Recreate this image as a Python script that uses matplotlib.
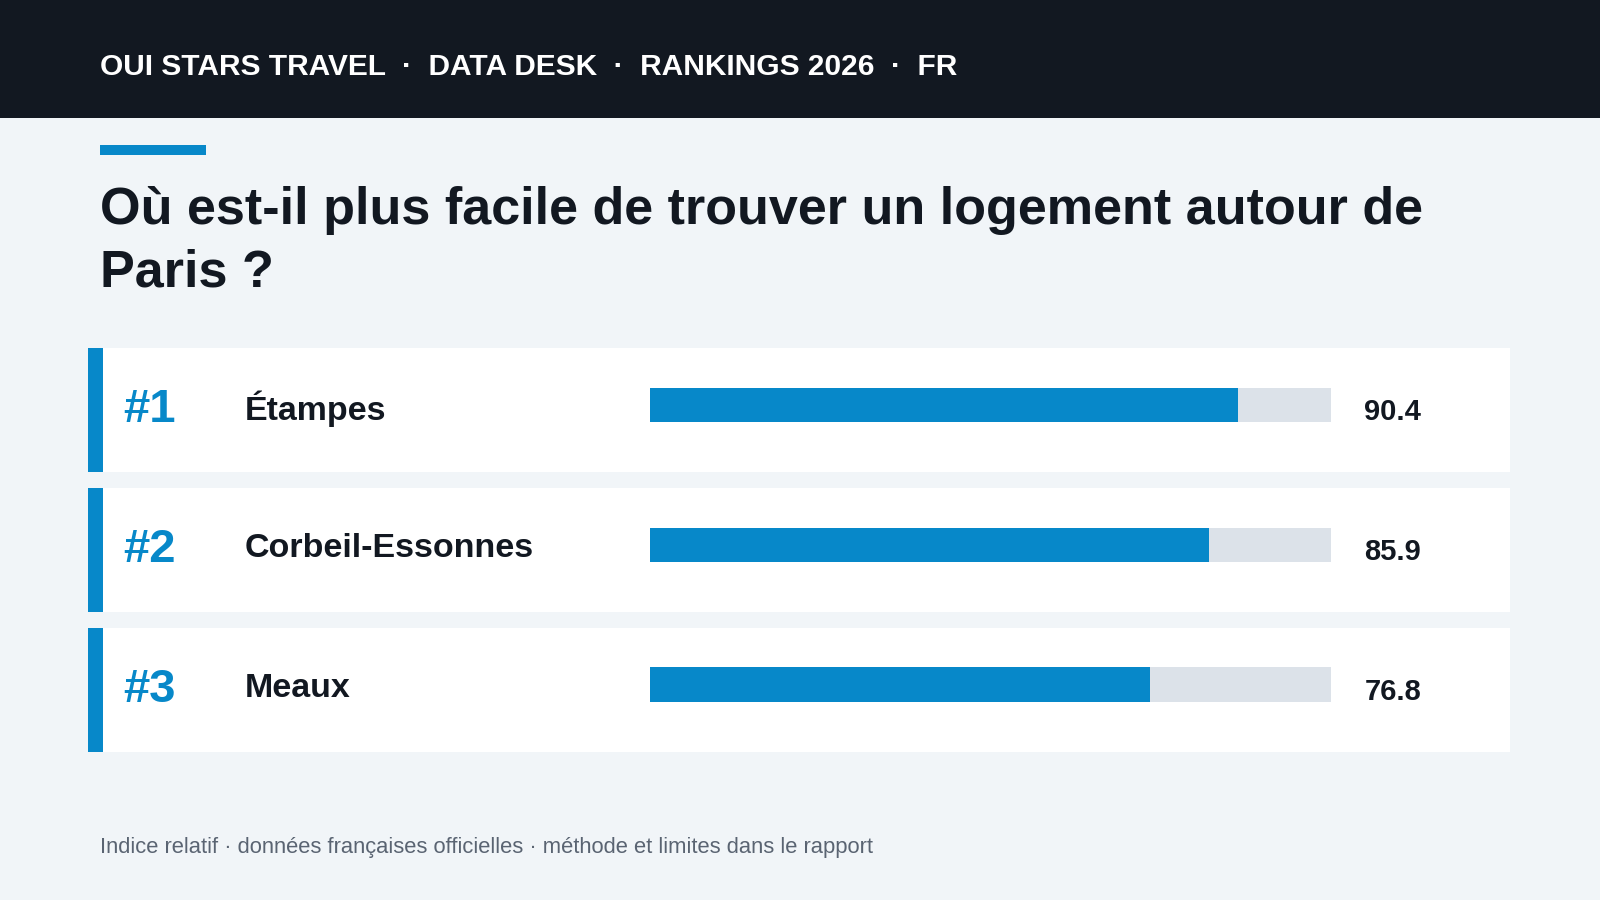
import matplotlib
matplotlib.use("Agg")
import matplotlib.pyplot as plt
from matplotlib.patches import Rectangle

plt.rcParams["font.family"] = ["Liberation Sans", "DejaVu Sans"]

RANKS = ["#1", "#2", "#3"]
CITIES = ["Étampes", "Corbeil-Essonnes", "Meaux"]
SCORES = [90.4, 85.9, 76.8]
SCALE_MAX = 104.6

W, H = 1568, 882
BLUE = "#0788c9"
DARK = "#121821"
BG = "#f1f5f8"

fig = plt.figure(figsize=(16, 9), dpi=100)
fig.patch.set_facecolor(BG)


def fx(x):
    return x / W


def fy(y):
    return 1 - y / H


def rect(x0, y0, x1, y1, color):
    fig.add_artist(Rectangle((fx(x0), fy(y1)), fx(x1) - fx(x0), fy(y0) - fy(y1),
                             transform=fig.transFigure, color=color, lw=0, zorder=0))


# header
rect(0, 0, W, 116, DARK)
fig.text(fx(98), fy(66), "OUI STARS TRAVEL  ·  DATA DESK  ·  RANKINGS 2026  ·  FR",
         color="white", fontsize=21.5, fontweight="bold", va="center")

rect(98, 142, 202, 152, BLUE)
fig.text(fx(98), fy(206), "Où est-il plus facile de trouver un logement autour de",
         color=DARK, fontsize=37.5, fontweight="bold", va="center")
fig.text(fx(98), fy(268), "Paris ?", color=DARK, fontsize=37.5, fontweight="bold", va="center")

tops = [341, 478, 615]
for rank, city, score, top in zip(RANKS, CITIES, SCORES, tops):
    rect(86, top, 1480, top + 122, "white")
    rect(86, top, 101, top + 122, BLUE)
    mid = top + 59
    fig.text(fx(121), fy(mid + 2), rank, color=BLUE, fontsize=34, fontweight="bold", va="center")
    fig.text(fx(240), fy(mid + 1), city, color=DARK, fontsize=24.5, fontweight="bold", va="center")
    fig.text(fx(1337), fy(mid + 4), f"{score:.1f}", color=DARK, fontsize=21,
             fontweight="bold", va="center")
    ax = fig.add_axes([fx(637), fy(mid + 14), fx(1304) - fx(637), fy(mid - 20) - fy(mid + 14)],
                      zorder=5)
    ax.set_xlim(0, SCALE_MAX)
    ax.set_ylim(0, 1)
    ax.barh([0.5], [SCALE_MAX], height=1, color="#dce2e9", lw=0)
    ax.barh([0.5], [score], height=1, color=BLUE, lw=0)
    ax.axis("off")

fig.text(fx(98), fy(831),
         "Indice relatif · données françaises officielles · méthode et limites dans le rapport",
         color="#5a6472", fontsize=15.8, va="center")

fig.savefig("out.png", facecolor=BG)
